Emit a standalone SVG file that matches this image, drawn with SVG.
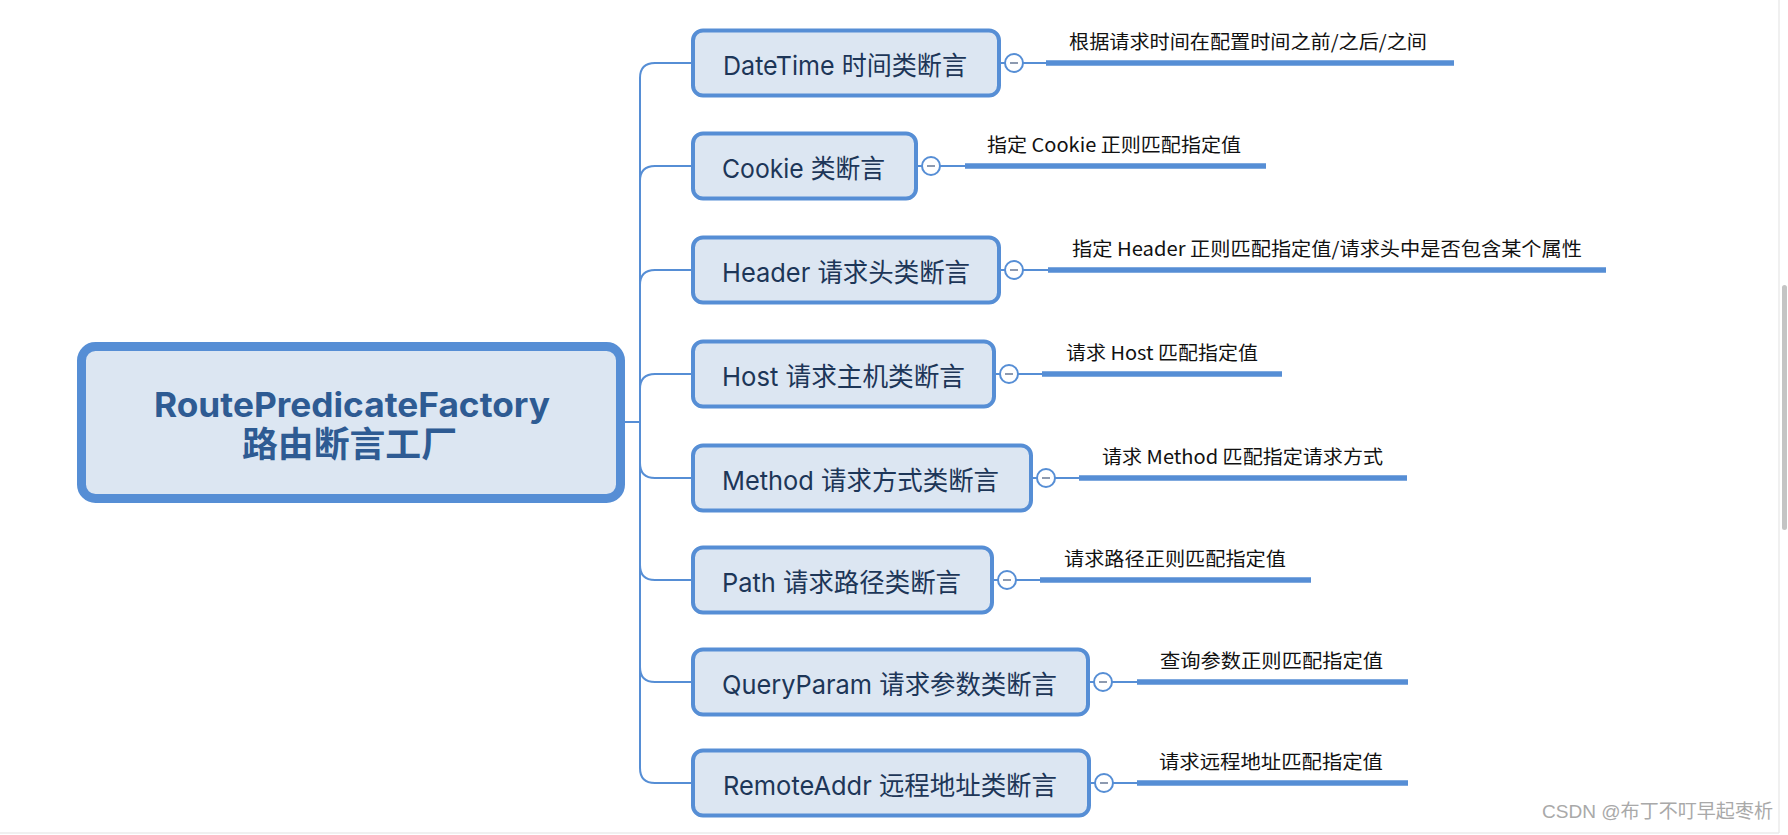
<svg xmlns="http://www.w3.org/2000/svg" width="1788" height="835" viewBox="0 0 1788 835">
<style>
.bg{fill:#ffffff}
.root{fill:#dce6f2;stroke:#568ed5;stroke-width:9}
.rt{font-weight:bold;fill:#2e5b93;text-anchor:start}
.node{fill:#dce6f2;stroke:#568ed5;stroke-width:4}
.nt{font-family:Inter,"Noto Sans CJK SC",sans-serif;font-size:26px;fill:#1d3658}
.conn{fill:none;stroke:#568ed5;stroke-width:2}
.under{stroke:#568ed5;stroke-width:5.5}
.col{fill:#ffffff;stroke:#568ed5;stroke-width:2}
.minus{stroke:#8d9ab0;stroke-width:2}
.lt{font-family:"Noto Sans CJK SC",sans-serif;font-size:19px;fill:#111111}
.wm{font-family:"Liberation Sans","Noto Sans CJK SC",sans-serif;font-size:19px;fill:#a9a9a9}
</style>
<rect class="bg" x="0" y="0" width="1788" height="835"/>
<g id="frame">
<line x1="1779" y1="0" x2="1779" y2="833" stroke="#ebebeb" stroke-width="1.5"/>
<line x1="0" y1="833" x2="1779" y2="833" stroke="#ebebeb" stroke-width="1.5"/>
<rect x="1782" y="285" width="5" height="245" rx="2.5" fill="#c4c4c4"/>
</g>
<g id="connectors">
<path class="conn" d="M625 422 H640"/>
<path class="conn" d="M640 422 V78 Q640 63 655 63 H691"/>
<path class="conn" d="M640 422 V181 Q640 166 655 166 H691"/>
<path class="conn" d="M640 422 V285 Q640 270 655 270 H691"/>
<path class="conn" d="M640 422 V389 Q640 374 655 374 H691"/>
<path class="conn" d="M640 422 V463 Q640 478 655 478 H691"/>
<path class="conn" d="M640 422 V565 Q640 580 655 580 H691"/>
<path class="conn" d="M640 422 V667 Q640 682 655 682 H691"/>
<path class="conn" d="M640 422 V768 Q640 783 655 783 H691"/>
<path class="conn" d="M1001 63 H1046"/>
<path class="conn" d="M918 166 H965"/>
<path class="conn" d="M1001 270 H1048"/>
<path class="conn" d="M996 374 H1042"/>
<path class="conn" d="M1033 478 H1079"/>
<path class="conn" d="M994 580 H1040"/>
<path class="conn" d="M1090 682 H1137"/>
<path class="conn" d="M1091 783 H1137"/>
</g>
<g id="root">
<rect class="root" x="81.5" y="346.5" width="539" height="152" rx="14"/>
<text class="rt" font-family="Inter,'Noto Sans CJK SC',sans-serif"><tspan x="154" y="417" font-size="33.5" textLength="396" lengthAdjust="spacingAndGlyphs">RoutePredicateFactory</tspan><tspan x="242" y="457" font-family="'Noto Sans CJK SC',sans-serif" font-size="35" textLength="215" lengthAdjust="spacingAndGlyphs">路由断言工厂</tspan></text>
</g>
<g id="n1">
<rect class="node" x="693" y="30.5" width="306" height="65" rx="10"/>
<text class="nt" x="723" y="75" textLength="244" lengthAdjust="spacingAndGlyphs">DateTime 时间类断言</text>
<circle class="col" cx="1014" cy="63" r="9"/><line class="minus" x1="1010" y1="63" x2="1018" y2="63"/>
<line class="under" x1="1046" y1="63" x2="1454" y2="63"/>
<text class="lt" x="1069" y="49" textLength="358" lengthAdjust="spacingAndGlyphs">根据请求时间在配置时间之前/之后/之间</text>
</g>
<g id="n2">
<rect class="node" x="693" y="133.5" width="223" height="65" rx="10"/>
<text class="nt" x="722" y="178" textLength="163" lengthAdjust="spacingAndGlyphs">Cookie 类断言</text>
<circle class="col" cx="931" cy="166" r="9"/><line class="minus" x1="927" y1="166" x2="935" y2="166"/>
<line class="under" x1="965" y1="166" x2="1266" y2="166"/>
<text class="lt" x="987" y="152" textLength="254" lengthAdjust="spacingAndGlyphs">指定 Cookie 正则匹配指定值</text>
</g>
<g id="n3">
<rect class="node" x="693" y="237.5" width="306" height="65" rx="10"/>
<text class="nt" x="722" y="282" textLength="248" lengthAdjust="spacingAndGlyphs">Header 请求头类断言</text>
<circle class="col" cx="1014" cy="270" r="9"/><line class="minus" x1="1010" y1="270" x2="1018" y2="270"/>
<line class="under" x1="1048" y1="270" x2="1606" y2="270"/>
<text class="lt" x="1072" y="256" textLength="510" lengthAdjust="spacingAndGlyphs">指定 Header 正则匹配指定值/请求头中是否包含某个属性</text>
</g>
<g id="n4">
<rect class="node" x="693" y="341.5" width="301" height="65" rx="10"/>
<text class="nt" x="722" y="386" textLength="243" lengthAdjust="spacingAndGlyphs">Host 请求主机类断言</text>
<circle class="col" cx="1009" cy="374" r="9"/><line class="minus" x1="1005" y1="374" x2="1013" y2="374"/>
<line class="under" x1="1042" y1="374" x2="1282" y2="374"/>
<text class="lt" x="1066" y="360" textLength="192" lengthAdjust="spacingAndGlyphs">请求 Host 匹配指定值</text>
</g>
<g id="n5">
<rect class="node" x="693" y="445.5" width="338" height="65" rx="10"/>
<text class="nt" x="722" y="490" textLength="277" lengthAdjust="spacingAndGlyphs">Method 请求方式类断言</text>
<circle class="col" cx="1046" cy="478" r="9"/><line class="minus" x1="1042" y1="478" x2="1050" y2="478"/>
<line class="under" x1="1079" y1="478" x2="1407" y2="478"/>
<text class="lt" x="1102" y="464" textLength="281" lengthAdjust="spacingAndGlyphs">请求 Method 匹配指定请求方式</text>
</g>
<g id="n6">
<rect class="node" x="693" y="547.5" width="299" height="65" rx="10"/>
<text class="nt" x="722" y="592" textLength="239" lengthAdjust="spacingAndGlyphs">Path 请求路径类断言</text>
<circle class="col" cx="1007" cy="580" r="9"/><line class="minus" x1="1003" y1="580" x2="1011" y2="580"/>
<line class="under" x1="1040" y1="580" x2="1311" y2="580"/>
<text class="lt" x="1064" y="566" textLength="222" lengthAdjust="spacingAndGlyphs">请求路径正则匹配指定值</text>
</g>
<g id="n7">
<rect class="node" x="693" y="649.5" width="395" height="65" rx="10"/>
<text class="nt" x="722" y="694" textLength="335" lengthAdjust="spacingAndGlyphs">QueryParam 请求参数类断言</text>
<circle class="col" cx="1103" cy="682" r="9"/><line class="minus" x1="1099" y1="682" x2="1107" y2="682"/>
<line class="under" x1="1137" y1="682" x2="1408" y2="682"/>
<text class="lt" x="1160" y="668" textLength="223" lengthAdjust="spacingAndGlyphs">查询参数正则匹配指定值</text>
</g>
<g id="n8">
<rect class="node" x="693" y="750.5" width="396" height="65" rx="10"/>
<text class="nt" x="723" y="795" textLength="334" lengthAdjust="spacingAndGlyphs">RemoteAddr 远程地址类断言</text>
<circle class="col" cx="1104" cy="783" r="9"/><line class="minus" x1="1100" y1="783" x2="1108" y2="783"/>
<line class="under" x1="1137" y1="783" x2="1408" y2="783"/>
<text class="lt" x="1159" y="769" textLength="224" lengthAdjust="spacingAndGlyphs">请求远程地址匹配指定值</text>
</g>
<text class="wm" x="1542" y="818" textLength="231" lengthAdjust="spacingAndGlyphs">CSDN @布丁不叮早起枣析</text>
</svg>
